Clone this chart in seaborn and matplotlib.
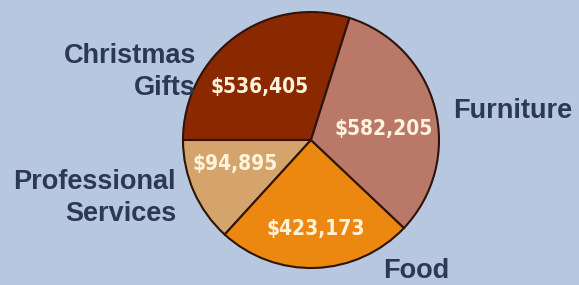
import matplotlib
matplotlib.use("Agg")
import matplotlib.pyplot as plt
import seaborn as sns
import numpy as np

# Data (slice angles, in degrees; amounts as printed)
categories = ["Christmas\nGifts", "Professional\nServices", "Food", "Furniture"]
amounts = ["$536,405", "$94,895", "$423,173", "$582,205"]
slice_degrees = [107.5, 47.6, 89.0, 115.9]
colors = ["#8a2800", "#d4a46c", "#ec870f", "#b97868"]

sns.set_theme(style="white")
bg = "#b7c7e0"

fig = plt.figure(figsize=(5.79, 2.85), dpi=100, facecolor=bg)
ax = fig.add_axes([0, 0, 1, 1])
ax.set_facecolor(bg)
ax.set_xlim(0, 579)
ax.set_ylim(0, 285)
ax.set_aspect("equal")
ax.axis("off")

center = (311, 145)
radius = 128
wedges, _ = ax.pie(slice_degrees, colors=colors, startangle=72.5, counterclock=True,
                   center=center, radius=radius,
                   wedgeprops=dict(edgecolor="#2e140a", linewidth=1.5))
ax.set_xlim(0, 579)
ax.set_ylim(0, 285)

# value label positions as (angle offset from slice mid, distance fraction)
label_pos = [(8, 0.58), (-6, 0.62), (1, 0.70), (-6, 0.57)]
for w, txt, (da, fr) in zip(wedges, amounts, label_pos):
    mid = np.deg2rad((w.theta1 + w.theta2) / 2 + da)
    x = center[0] + radius * fr * np.cos(mid)
    y = center[1] + radius * fr * np.sin(mid)
    ax.text(x, y, txt, ha="center", va="center", color="#fff3dc",
            fontsize=15, fontweight="bold", fontstretch="condensed",
            family=["DejaVu Sans"])

navy = "#2b3954"
cat_style = dict(fontsize=19.5, fontweight="bold", color=navy,
                 family=["Liberation Sans", "DejaVu Sans"], linespacing=1.3)
ax.text(196, 213, categories[0], ha="right", va="center", multialignment="right", **cat_style)
ax.text(176, 87, categories[1], ha="right", va="center", multialignment="right", **cat_style)
ax.text(383, 14, categories[2], ha="left", va="center", **cat_style)
ax.text(453, 174, categories[3], ha="left", va="center", **cat_style)

fig.savefig("out.png", dpi=100, facecolor=bg)
